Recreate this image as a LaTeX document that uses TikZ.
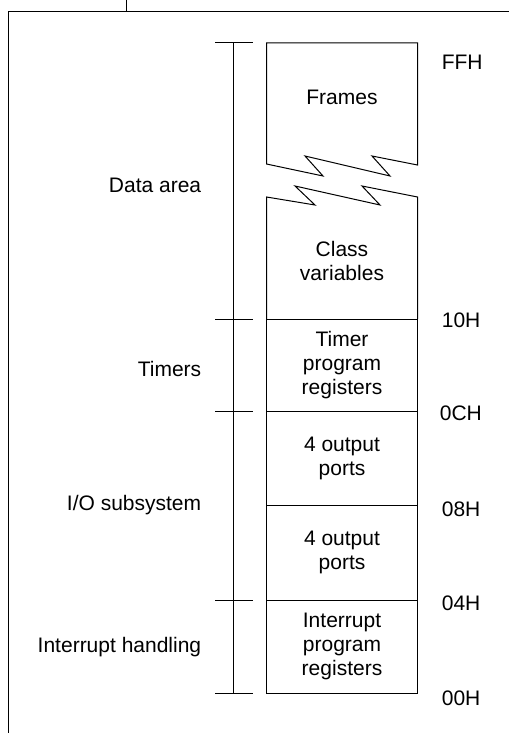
\documentclass[tikz,border=0pt]{standalone}
\usepackage{fontspec}
\setmainfont{Liberation Sans}
\usetikzlibrary{positioning}

\begin{document}
\begin{tikzpicture}[
				x=1bp, y=-1bp,
				line width=1bp,
				memcell/.style={draw, minimum width=151bp, inner sep=0pt, outer sep=0pt, align=center, font=\fontsize{21bp}{24bp}\selectfont},
				celltext/.style={align=center, font=\fontsize{21bp}{24bp}\selectfont},
				addr/.style={anchor=west, font=\fontsize{21bp}{24bp}\selectfont},
				area/.style={anchor=east, align=right, font=\fontsize{21bp}{24bp}\selectfont}
			]
			\useasboundingbox (0,0) rectangle (509,733);
			% open frame round the figure
			\draw (8,733) -- (8,11.5) -- (509,11.5);
			\draw (126.5,0) -- (126.5,11.5);
			% memory cells, from 10H down to 00H
			\node[memcell, minimum height=92bp, anchor=north west] (timer) at (266.5,319) {Timer\\program\\registers};
			\node[memcell, minimum height=94bp, below=0pt of timer] (portsa) {4 output\\ports};
			\node[memcell, minimum height=95bp, below=0pt of portsa] (portsb) {4 output\\ports};
			\node[memcell, minimum height=93bp, below=0pt of portsb] (intr) {Interrupt\\program\\registers};
			% broken data area above
			\draw (266.5,164) -- (266.5,43) -- (417.5,43) -- (417.5,165) -- (372,156) -- (390,176) -- (305,156) -- (323,176) -- cycle;
			\draw (timer.north west) -- (266.5,197) -- (315,205) -- (295,186) -- (380,205) -- (362,186) -- (417.5,197) -- (timer.north east);
			\node[celltext] (frames) at (342,97) {Frames};
			\node[celltext] (classvars) at (342,261) {Class\\variables};
			% scale bar with ticks
			\coordinate (bartop) at (233,43);
			\coordinate (barbot) at (233,693);
			\draw (bartop) -- (barbot);
			\foreach \c in {bartop, timer.north, portsa.north, intr.north, intr.south}
				\draw (bartop |- \c) ++(-18,0) -- ++(38,0);
			% area names
			\node[area] (dataarea) at (205,185) {Data area};
			\node[area] (timers) at (205,369) {Timers};
			\node[area] (iosub) at (205,505) {I/O subsystem};
			\node[area] (inthand) at (205,647) {Interrupt handling};
			% addresses
			\node[addr] (affh) at (438,62) {FFH};
			\node[addr] (a10h) at (438,320) {10H};
			\node[addr] (a0ch) at (436,413) {0CH};
			\node[addr] (a08h) at (438,509) {08H};
			\node[addr] (a04h) at (438,603) {04H};
			\node[addr] (a00h) at (438,698) {00H};
		\end{tikzpicture}
\end{document}
